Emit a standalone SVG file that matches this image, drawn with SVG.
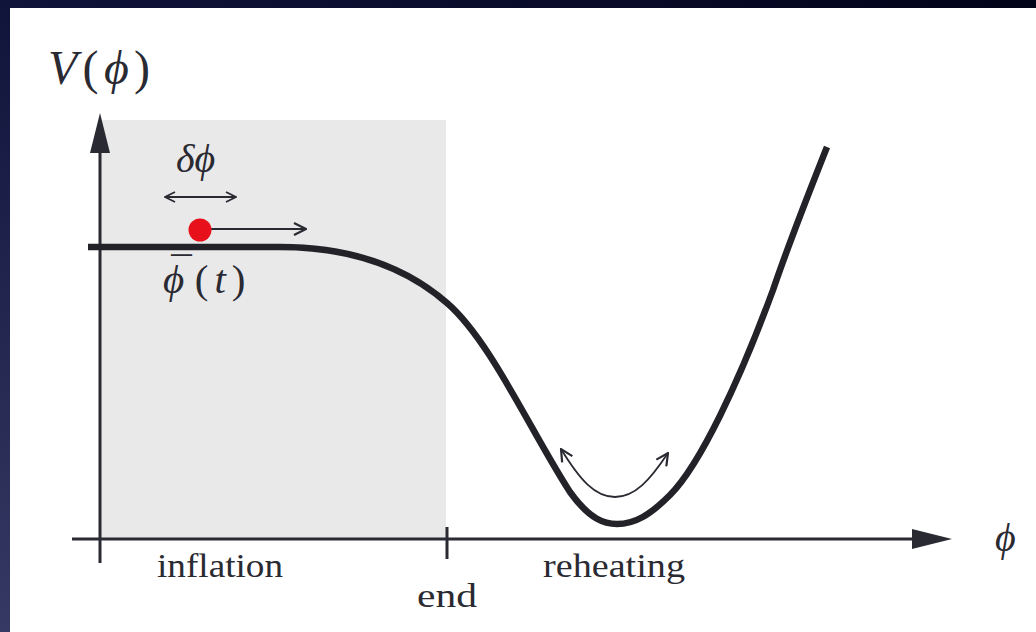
<svg xmlns="http://www.w3.org/2000/svg" width="1036" height="632" viewBox="0 0 1036 632">
  <defs>
    <linearGradient id="bg" x1="1" y1="0" x2="0" y2="1">
      <stop offset="0" stop-color="#02041a"/>
      <stop offset="0.5" stop-color="#10133a"/>
      <stop offset="1" stop-color="#363963"/>
    </linearGradient>
    <marker id="open" viewBox="0 0 12 12" refX="11" refY="6" markerWidth="12" markerHeight="12" markerUnits="userSpaceOnUse" orient="auto-start-reverse">
      <path d="M1 1 L11 6 L1 11" fill="none" stroke="#2a2a32" stroke-width="1.8"/>
    </marker>
    <marker id="openS" viewBox="0 0 14 14" refX="13" refY="7" markerWidth="14" markerHeight="14" markerUnits="userSpaceOnUse" orient="auto-start-reverse">
      <path d="M1 1 L13 7 L1 13" fill="none" stroke="#2a2a32" stroke-width="2.2"/>
    </marker>
    <style>
      .math { font-family: "Liberation Serif", "DejaVu Serif", serif; fill: #2a2a32; }
      .it { font-style: italic; }
      .lbl { font-family: "Liberation Serif", "DejaVu Serif", serif; fill: #2a2a32; font-size: 33px; }
      .axis { stroke: #2a2a32; stroke-width: 3; fill: none; }
      .thin { stroke: #2a2a32; stroke-width: 1.8; fill: none; }
    </style>
  </defs>
  <rect width="1036" height="632" fill="url(#bg)"/>
  <rect x="10" y="8" width="1026" height="624" fill="#ffffff"/>

  <g id="inflation-region">
    <rect x="100" y="120" width="346" height="419" fill="#e9e9e9"/>
  </g>

  <g id="axes">
    <line class="axis" x1="100" y1="563" x2="100" y2="150"/>
    <path d="M100 113 L110 153 L90 153 Z" fill="#2a2a32"/>
    <line class="axis" x1="72" y1="539" x2="915" y2="539"/>
    <path d="M952 539 L912 529 L912 549 Z" fill="#2a2a32"/>
    <line class="axis" x1="447" y1="527" x2="447" y2="559"/>
  </g>

  <g id="potential">
    <path d="M88 247 L280 247 C340 247 400 262 447 303 C490 340 530 430 570 492 C590 520 605 524 617 524 C635 524 650 515 670 495 C700 465 740 380 773 290 C790 240 810 190 827 147" fill="none" stroke="#222228" stroke-width="6.5" stroke-linecap="butt"/>
  </g>

  <g id="connectors">
    <line class="thin" x1="165" y1="197" x2="236" y2="197" marker-start="url(#open)" marker-end="url(#open)"/>
    <line class="thin" x1="210" y1="229" x2="306" y2="229" marker-end="url(#openS)"/>
    <path class="thin" d="M561 449 C580 480 595 497 615 497 C635 497 650 480 668 453" marker-start="url(#openS)" marker-end="url(#openS)"/>
  </g>

  <g id="field">
    <circle cx="200" cy="230" r="11.5" fill="#e8101a"/>
  </g>

  <g id="labels">
    <text class="math" x="48" y="84" font-size="48" textLength="102" lengthAdjust="spacing"><tspan class="it">V</tspan>(<tspan class="it">ϕ</tspan>)</text>
    <text class="math it" x="176" y="172" font-size="40">δϕ</text>
    <text class="math" x="163" y="293" font-size="41"><tspan class="it">ϕ</tspan><tspan dx="-13" dy="-8">¯</tspan><tspan dx="3" dy="8">(</tspan><tspan class="it" dx="6">t</tspan><tspan dx="6">)</tspan></text>
    <text class="math it" x="995" y="551" font-size="40">ϕ</text>
    <text class="lbl" x="157" y="577" textLength="126" lengthAdjust="spacingAndGlyphs">inflation</text>
    <text class="lbl" x="417" y="607" textLength="60" lengthAdjust="spacingAndGlyphs">end</text>
    <text class="lbl" x="543" y="577" textLength="142" lengthAdjust="spacingAndGlyphs">reheating</text>
  </g>
</svg>
